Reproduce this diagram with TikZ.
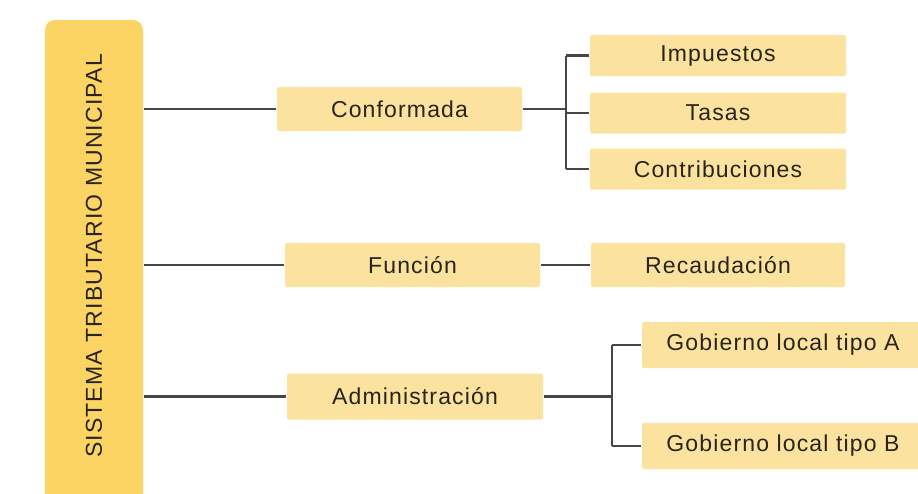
\documentclass[tikz,border=0pt]{standalone}
\usepackage{fontspec}
\setmainfont{Liberation Sans}[LetterSpace=5]
\usepackage{tikz}
\usetikzlibrary{arrows}

\definecolor{mainyellow}{RGB}{251,212,100}
\definecolor{boxyellow}{RGB}{251,226,158}
\definecolor{linegray}{RGB}{70,70,70}
\definecolor{textgray}{RGB}{40,36,28}

\begin{document}
\begin{tikzpicture}[x=1pt,y=-1pt,draw=linegray,line width=2.2pt]
    \tikzstyle{box}=[rectangle,fill=boxyellow,rounded corners=2pt,minimum height=44pt,
        minimum width=255pt,inner sep=0pt,text=textgray,font=\fontsize{23}{25}\selectfont]
    \tikzstyle{main box}=[box,fill=none,rotate=90,minimum width=472pt,minimum height=98pt]
    \tikzstyle{wide box}=[box,minimum width=282pt,minimum height=46pt]
    \def\jogsep{43pt}

    \useasboundingbox (0,0) rectangle (918,493);
    \clip (0,0) rectangle (918,493);

    % The main column on the left
    \fill[mainyellow,rounded corners=10pt] (45,20) rectangle (143,520);
    \node[main box] (sys) at (94,256) {SISTEMA TRIBUTARIO MUNICIPAL};

    % The second level
    \node[box,minimum width=245pt] (conf) at (399.5,109) {Conformada};
    \node[box] (func) at (412.5,265) {Función};
    \node[box,minimum height=46pt,minimum width=256pt] (adm) at (415,396.5) {Administración};

    % The third level
    \foreach \name / \y / \txt in {imp/55.5/Impuestos,tas/113/Tasas,con/169/Contribuciones}
        \node[box,minimum height=41pt,minimum width=256pt] (\name) at (718,\y) {\txt};
    \node[box,minimum width=254pt] (rec) at (718,265) {Recaudación};
    \node[wide box] (gA) at (783,345) {Gobierno local tipo A};
    \node[wide box] (gB) at (783,446) {Gobierno local tipo B};

    % Connect the main column with the second level
    \foreach \dest in {conf,func,adm}
        \draw (sys.south |- \dest) -- (\dest.west);

    % Brackets to the third level
    \draw (conf.east) -- ++(\jogsep,0) coordinate (cj);
    \draw (cj |- imp) -- (cj |- con);
    \foreach \dest in {imp,tas,con}
        \draw (cj |- \dest) -- (\dest.west);

    \draw (func.east) -- (rec.west);

    \draw (adm.east) -- ++(68pt,0) coordinate (aj);
    \draw (aj |- gA) -- (aj |- gB);
    \foreach \dest in {gA,gB}
        \draw (aj |- \dest) -- (\dest.west);

\end{tikzpicture}
\end{document}
